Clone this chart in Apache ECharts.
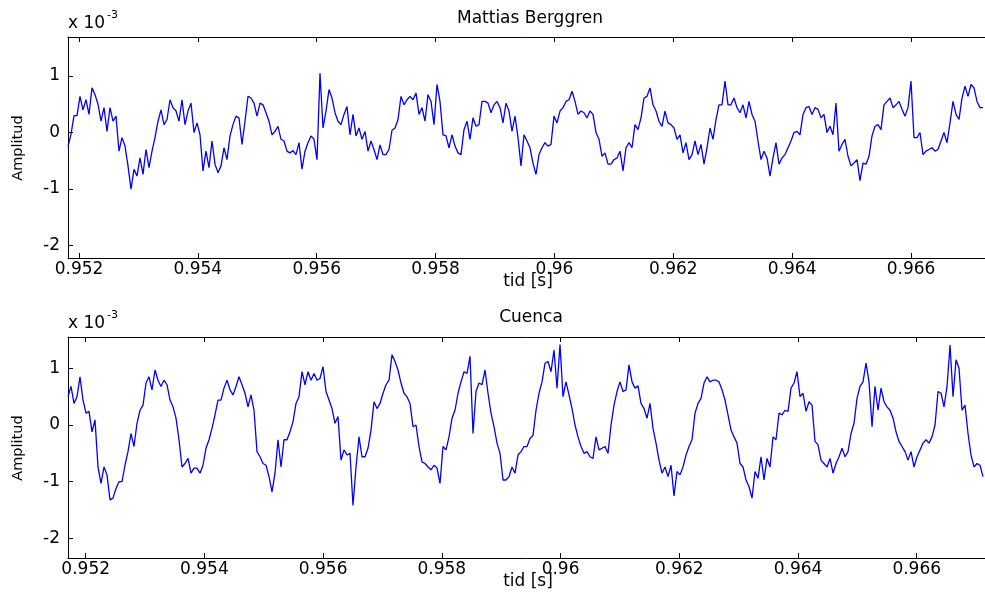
<!DOCTYPE html>
<html>
<head>
<meta charset="utf-8">
<script src="https://cdn.jsdelivr.net/npm/echarts@6/dist/echarts.min.js"></script>
<style>
html,body{margin:0;padding:0;background:#fff;}
#chart{width:985px;height:599px;}
</style>
</head>
<body>
<div id="chart"></div>
<script>
// ---- data (amplitude in units of 1e-3) ----
const xTicks = [0.952, 0.954, 0.956, 0.958, 0.960, 0.962, 0.964, 0.966];
const yTicks = [-2, -1, 0, 1];
const titles = ['Mattias Berggren', 'Cuenca'];
const xName = 'tid [s]';
const yName = 'Amplitud';

// sampling clock of the traced samples
const topStart = 0.951815, topStep = 0.00005048;
const botStart = 0.951702, botStep = 0.00005054;

const topVals = [
-0.25,-0.03,0.3,0.3,0.64,0.4,0.58,0.32,0.79,0.67,
0.5,0.2,0.44,0.02,0.44,0.2,0.29,-0.33,-0.09,-0.24,
-0.59,-1.0,-0.65,-0.77,-0.45,-0.74,-0.3,-0.62,-0.33,-0.09,
0.2,0.4,0.14,0.23,0.58,0.44,0.38,0.2,0.58,0.14,
0.38,0.52,0.0,0.17,-0.04,-0.68,-0.33,-0.62,-0.15,-0.56,
-0.71,
-0.59,-0.27,-0.48,-0.06,0.14,0.29,0.26,-0.21,0.2,0.64,
0.61,0.52,0.29,0.52,0.49,0.35,0.2,-0.04,0.02,0.11,
-0.12,-0.15,-0.33,-0.36,-0.32,-0.39,-0.18,-0.65,-0.33,-0.18,
-0.06,-0.12,-0.48,1.05,0.08,0.38,0.76,0.61,0.35,0.2,
0.14,0.32,0.46,-0.04,0.32,-0.06,0.08,-0.12,0.02,-0.33,
-0.15,
-0.3,-0.48,-0.22,-0.39,-0.39,-0.3,0.04,0.08,0.23,0.64,
0.49,0.58,0.64,0.58,0.7,0.32,0.44,0.2,0.67,0.55,
0.14,0.85,0.55,-0.04,-0.06,-0.27,-0.04,-0.24,-0.36,-0.39,
0.05,0.2,-0.12,0.26,0.11,0.14,0.55,0.55,0.52,0.35,
0.49,0.55,0.44,0.17,0.52,0.38,0.02,0.29,-0.09,-0.59,
-0.04,
-0.15,-0.27,-0.54,-0.74,-0.39,-0.27,-0.18,-0.24,-0.21,0.29,
0.17,0.38,0.44,0.55,0.58,0.73,0.55,0.32,0.38,0.35,
0.26,0.38,0.32,0.0,-0.12,-0.42,-0.36,-0.56,-0.56,-0.48,
-0.45,-0.33,-0.68,-0.27,-0.18,-0.27,0.14,0.05,0.26,0.61,
0.64,0.79,0.49,0.38,0.2,0.11,0.38,0.17,0.14,0.08,
-0.12,-0.04,-0.36,-0.18,-0.48,-0.39,-0.15,-0.39,-0.21,-0.56,
-0.27,0.08,-0.12,0.23,0.49,0.49,0.91,0.49,0.49,0.61,
0.44,0.35,0.49,0.26,0.55,0.32,0.2,-0.15,-0.48,-0.33,
-0.45,-0.77,-0.45,-0.18,-0.56,-0.45,-0.39,-0.27,-0.15,0.0,
0.02,-0.04,0.32,0.44,0.46,0.32,0.44,0.41,0.26,0.32,0.0,
0.11,-0.04,0.52,-0.33,-0.21,-0.12,-0.42,-0.59,-0.54,-0.48,
-0.85,-0.54,-0.56,-0.42,-0.06,0.11,0.14,0.05,0.49,0.55,
0.61,0.44,0.49,0.55,0.41,0.29,0.44,0.91,-0.09,-0.09,
0.0,-0.39,-0.33,-0.3,-0.27,-0.33,-0.3,-0.15,0.0,-0.18,
0.17,0.55,0.32,0.23,0.61,0.82,0.64,0.85,0.79,0.55,0.44,0.44
];

const botVals = [
0.5,0.68,0.38,0.5,0.85,0.44,0.21,0.24,-0.12,0.09,
-0.74,-1.03,-0.74,-0.88,-1.32,-1.29,-1.12,-1.0,-1.0,-0.71,
-0.47,-0.15,-0.38,0.03,0.26,0.35,0.74,0.85,0.62,0.97,
0.79,0.68,0.79,0.71,0.44,0.32,0.12,-0.26,-0.74,-0.68,
-0.59,-0.85,-0.76,-0.76,-0.85,-0.71,-0.41,-0.26,-0.06,0.18,
0.44,0.44,0.65,0.79,0.62,0.53,0.68,0.85,0.71,0.56,
0.32,0.53,0.26,-0.47,-0.56,-0.68,-0.71,-0.91,-1.18,-0.85,
-0.26,-0.74,-0.26,-0.26,-0.12,0.06,0.38,0.5,0.94,0.71,
0.94,0.79,0.91,0.79,0.82,1.03,0.59,0.44,
0.29,0.03,0.15,-0.62,-0.44,-0.53,-0.5,-1.42,-0.74,-0.21,
-0.56,-0.56,-0.41,-0.09,0.41,0.29,0.38,0.56,0.71,0.79,
1.24,1.12,0.97,0.74,0.56,0.5,0.38,-0.03,0.0,-0.38,
-0.65,-0.68,-0.74,-0.79,-0.71,-0.76,-1.03,-0.38,-0.44,-0.21,
0.12,0.26,0.56,0.76,0.94,0.91,1.21,-0.15,0.59,0.74,
0.71,0.97,0.56,0.21,-0.03,-0.32,-0.5,-0.97,-0.97,-0.91,
-0.74,-0.85,-0.53,-0.47,-0.38,-0.38,-0.24,-0.18,0.26,0.56,
0.76,1.09,1.12,0.94,1.32,0.65,1.42,0.5,0.76,0.53,
0.29,0.0,-0.21,-0.38,-0.5,-0.47,-0.56,-0.59,-0.21,-0.44,
-0.41,-0.38,-0.5,0.0,0.35,0.59,0.76,0.59,0.62,1.06,
0.76,0.65,0.69,0.38,0.29,0.12,0.38,-0.06,-0.32,-0.62,
-0.85,-0.74,-0.91,-0.71,-1.25,-0.82,-0.88,-0.74,-0.53,-0.38,
-0.26,0.21,0.38,0.47,0.74,0.85,0.76,0.79,0.79,0.76,
0.62,0.44,0.18,-0.09,-0.21,-0.32,-0.68,-0.74,-0.97,-1.09,
-1.29,-0.82,-0.94,-0.56,-0.97,-0.59,-0.74,-0.21,-0.26,0.21,
0.18,0.26,0.24,0.65,0.74,0.94,0.5,0.56,0.24,0.41,
0.35,-0.29,-0.35,-0.62,-0.68,-0.74,-0.59,-0.85,-0.68,-0.56,
-0.41,-0.56,-0.47,-0.15,0.03,0.47,0.68,0.76,1.09,0.76,
-0.03,0.68,0.26,0.65,0.41,0.32,0.26,0.12,-0.12,-0.29,
-0.38,-0.47,-0.62,-0.47,-0.74,-0.56,-0.44,-0.32,-0.26,-0.32,
-0.21,0.0,0.59,0.56,0.32,0.68,1.41,0.5,1.15,1.0,
0.26,0.35,-0.15,-0.53,-0.74,-0.68,-0.71,-0.91
];

// axis ranges (as seen in the reference)
const topX = [0.951815, 0.967245], topY = [-2.22, 1.69];
const botX = [0.951702, 0.967150], botY = [-2.346, 1.552];

// ---- chart ----
const FONT = 'DejaVu Sans';
const chart = echarts.init(document.getElementById('chart'), null, {renderer: 'canvas'});
const fmtX = v => String(parseFloat(Number(v).toFixed(3)));

function xAxisPair(grid, range) {
  return [
    { type: 'value', gridIndex: grid, min: range[0], max: range[1], position: 'bottom',
      axisLine: { show: true, onZero: false, lineStyle: { color: '#000', width: 1 } },
      axisTick: { show: true, inside: true, length: 5, customValues: xTicks, lineStyle: { color: '#000' } },
      axisLabel: { show: true, customValues: xTicks, formatter: fmtX, color: '#000',
                   fontFamily: FONT, fontSize: 17, margin: 3, hideOverlap: false },
      splitLine: { show: false } },
    { type: 'value', gridIndex: grid, min: range[0], max: range[1], position: 'top',
      axisLine: { show: true, onZero: false, lineStyle: { color: '#000', width: 1 } },
      axisTick: { show: true, inside: true, length: 5, customValues: xTicks, lineStyle: { color: '#000' } },
      axisLabel: { show: false },
      splitLine: { show: false } }
  ];
}
function yAxis(grid, range) {
  return { type: 'value', gridIndex: grid, min: range[0], max: range[1], position: 'left',
    axisLine: { show: true, onZero: false, lineStyle: { color: '#000', width: 1 } },
    axisTick: { show: true, inside: true, length: 5, customValues: yTicks, lineStyle: { color: '#000' } },
    axisLabel: { show: true, customValues: yTicks, color: '#000', fontFamily: FONT, fontSize: 17, margin: 8,
                 hideOverlap: false },
    splitLine: { show: false } };
}

const topData = topVals.map((v, i) => [topStart + i * topStep, v]);
const botData = botVals.map((v, i) => [botStart + i * botStep, v]);

const txt = (x, y, text, size, align, extra) => Object.assign({
  type: 'text', x: x, y: y, silent: true,
  style: { text: text, fill: '#000', font: size + 'px "' + FONT + '"', align: align || 'center', verticalAlign: 'middle' }
}, extra || {});

chart.setOption({
  animation: false,
  backgroundColor: '#fff',
  grid: [
    { left: 68, top: 37, right: 0, height: 221, containLabel: false },
    { left: 68, top: 337, right: 0, height: 221, containLabel: false }
  ],
  xAxis: [].concat(xAxisPair(0, topX), xAxisPair(1, botX)),
  yAxis: [yAxis(0, topY), yAxis(1, botY)],
  series: [
    { type: 'line', xAxisIndex: 0, yAxisIndex: 0, data: topData, showSymbol: false, symbol: 'none',
      lineStyle: { color: '#0000ff', width: 1.3 }, clip: true },
    { type: 'line', xAxisIndex: 2, yAxisIndex: 1, data: botData, showSymbol: false, symbol: 'none',
      lineStyle: { color: '#0000ff', width: 1.3 }, clip: true }
  ],
  graphic: [
    txt(530, 19, titles[0], 17),
    txt(531, 318, titles[1], 17),
    txt(528, 282, xName, 17),
    txt(528, 582, xName, 17),
    txt(18, 148, yName, 14.5, 'center', { rotation: Math.PI / 2 }),
    txt(18, 448, yName, 14.5, 'center', { rotation: Math.PI / 2 }),
    txt(68, 24, 'x 10', 17, 'left'),
    txt(107, 15, '-3', 11, 'left'),
    txt(68, 324, 'x 10', 17, 'left'),
    txt(107, 315, '-3', 11, 'left')
  ]
});
</script>
</body>
</html>
